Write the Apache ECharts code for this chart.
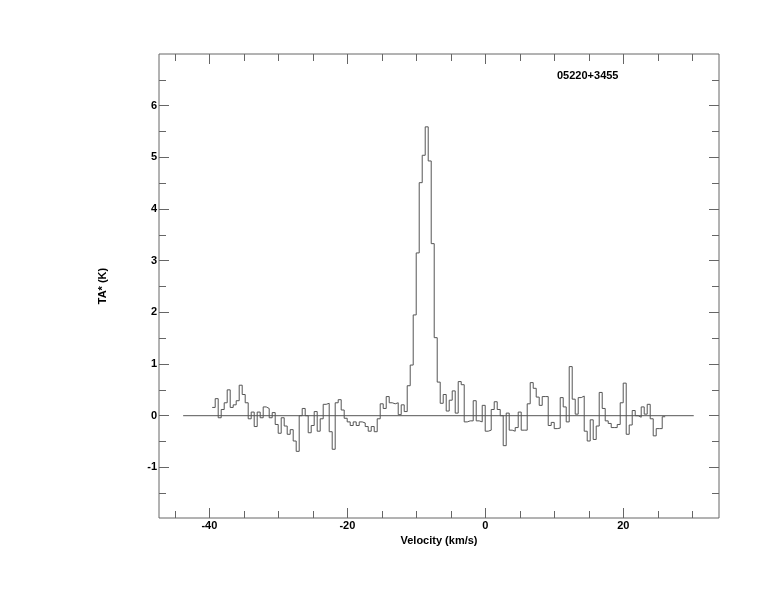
<!DOCTYPE html>
<html>
<head>
<meta charset="utf-8">
<script src="https://cdn.jsdelivr.net/npm/echarts@6/dist/echarts.min.js"></script>
<style>html,body{margin:0;padding:0;background:#fff}#c{width:774px;height:612px}</style>
</head>
<body>
<div id="c"></div>
<script>
// Spectrum channel grid (left edge of first channel and channel width, km/s)
const velStart = -39.59;
const chanWidth = 0.4348;
// Antenna temperature TA* (K) per channel
const ta = [
  0.16, 0.33, -0.04, 0.12, 0.25, 0.50, 0.16, 0.21, 0.29, 0.59,
  0.41, 0.25, -0.06, 0.07, -0.21, 0.07, -0.04, 0.17, 0.14, -0.04,
  0.06, -0.17, -0.34, -0.04, -0.20, -0.36, -0.27, -0.49, -0.69, 0.00,
  0.14, 0.00, -0.33, -0.19, 0.08, -0.30, -0.06, 0.22, 0.24, -0.31,
  -0.65, 0.25, 0.31, 0.11, -0.05, -0.12, -0.19, -0.12, -0.19, -0.12,
  -0.14, -0.21, -0.30, -0.21, -0.31, -0.06, 0.23, 0.14, 0.37, 0.25,
  0.23, 0.25, 0.02, 0.21, 0.08, 0.58, 0.98, 1.95, 3.15, 4.51,
  5.04, 5.59, 4.93, 3.33, 1.51, 0.65, 0.24, 0.41, 0.09, 0.30,
  0.48, 0.05, 0.66, 0.60, -0.12, -0.10, -0.10, 0.29, -0.10, -0.12,
  0.20, -0.30, -0.28, 0.12, 0.27, 0.12, 0.00, -0.58, 0.05, -0.28,
  -0.30, -0.23, 0.07, -0.28, -0.28, 0.23, 0.64, 0.53, 0.36, 0.20,
  0.37, 0.37, -0.19, -0.13, -0.25, -0.24, 0.35, 0.17, -0.12, 0.95,
  0.32, 0.03, 0.35, 0.38, -0.30, -0.49, -0.08, -0.46, -0.20, 0.45,
  0.14, -0.10, -0.15, -0.23, -0.23, -0.17, 0.25, 0.63, -0.36, -0.18,
  0.10, 0.00, -0.03, 0.17, 0.03, 0.22, -0.06, -0.39, -0.25, -0.25,
  -0.02
];
// Baseline extent (km/s)
const zeroLine = [-43.8, 30.2];
// Axis ranges and ticks
const xRange = [-47.3, 33.86];
const yRange = [-1.98, 7.0];
const xMajor = [-40, -20, 0, 20];
const xMinor = [-45, -35, -30, -25, -15, -10, -5, 5, 10, 15, 25, 30];
const yMajor = [-1, 0, 1, 2, 3, 4, 5, 6];
const yMinor = [-1.5, -0.5, 0.5, 1.5, 2.5, 3.5, 4.5, 5.5, 6.5];
const sourceName = '05220+3455';
const xName = 'Velocity (km/s)';
const yName = 'TA* (K)';

const specData = ta.map((v, k) => [velStart + k * chanWidth, v]);
specData.push([velStart + ta.length * chanWidth, ta[ta.length - 1]]);

const font = { fontFamily: 'Liberation Sans, Arial, sans-serif', fontWeight: 'bold', fontSize: 11, color: '#000' };
const tickColor = '#666';

function xAx(pos, vals, len, labels, extra) {
  return Object.assign({
    type: 'value', position: pos, min: xRange[0], max: xRange[1],
    axisLine: { show: false, onZero: false }, splitLine: { show: false },
    axisTick: { show: true, inside: true, length: len, customValues: vals, lineStyle: { color: tickColor } },
    axisLabel: labels ? Object.assign({ show: true, customValues: vals, margin: 2 }, font) : { show: false }
  }, extra || {});
}
function yAx(pos, vals, len, labels, extra) {
  return Object.assign({
    type: 'value', position: pos, min: yRange[0], max: yRange[1],
    axisLine: { show: false, onZero: false }, splitLine: { show: false },
    axisTick: { show: true, inside: true, length: len, customValues: vals, lineStyle: { color: tickColor } },
    axisLabel: labels ? Object.assign({ show: true, customValues: vals, margin: 2 }, font) : { show: false }
  }, extra || {});
}

const chart = echarts.init(document.getElementById('c'), null, { renderer: 'canvas' });
chart.setOption({
  animation: false,
  backgroundColor: '#fff',
  grid: { left: 159, right: 55, top: 54, bottom: 94, show: true, borderColor: '#666', borderWidth: 1, backgroundColor: 'transparent' },
  xAxis: [
    xAx('bottom', xMajor, 10, true, { name: xName, nameLocation: 'middle', nameGap: 10, nameTextStyle: font }),
    xAx('bottom', xMinor, 7, false),
    xAx('top', xMajor, 10, false),
    xAx('top', xMinor, 7, false)
  ],
  yAxis: [
    yAx('left', yMajor, 10, true, { name: yName, nameLocation: 'middle', nameGap: 51, nameRotate: 90, nameTextStyle: font }),
    yAx('left', yMinor, 7, false),
    yAx('right', yMajor, 10, false),
    yAx('right', yMinor, 7, false)
  ],
  graphic: [{
    type: 'text', left: 557, top: 70,
    style: { text: sourceName, font: 'bold 11px Liberation Sans, Arial, sans-serif', fill: '#000' }
  }],
  series: [
    {
      type: 'line', xAxisIndex: 0, yAxisIndex: 0, data: zeroLine.map(v => [v, 0]),
      symbol: 'none', lineStyle: { color: '#555', width: 1 }, silent: true
    },
    {
      type: 'line', xAxisIndex: 0, yAxisIndex: 0, data: specData, step: 'end',
      symbol: 'none', lineStyle: { color: '#555', width: 1 }, silent: true
    }
  ]
});
</script>
</body>
</html>
